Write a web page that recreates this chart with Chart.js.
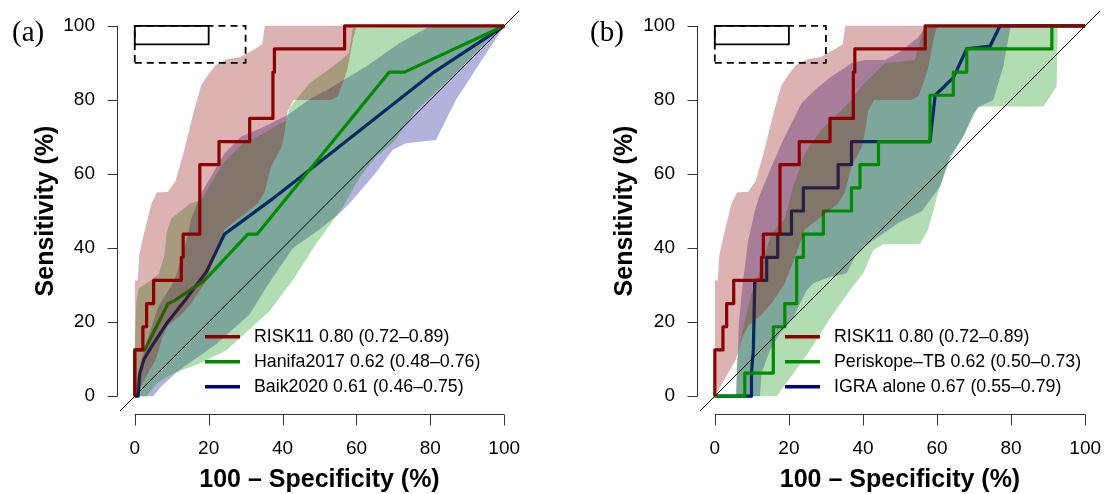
<!DOCTYPE html>
<html>
<head>
<meta charset="utf-8">
<script src="https://cdn.jsdelivr.net/npm/chart.js@4.4.1/dist/chart.umd.min.js"></script>
<style>
  html, body { margin: 0; padding: 0; background: #fff; }
  #wrap { position: relative; width: 1110px; height: 494px; }
  canvas { position: absolute; top: 0; }
  #panelA { left: 0; }
  #panelB { left: 555px; }
</style>
</head>
<body>
<div id="wrap">
  <canvas id="panelA" width="555" height="494"></canvas>
  <canvas id="panelB" width="555" height="494"></canvas>
</div>
<script>
// Axis ticks
const xTicks = [0, 20, 40, 60, 80, 100];
const yTicks = [0, 20, 40, 60, 80, 100];

// Target product profile boxes: [max 100-specificity, min sensitivity]
const optimalTpp = [20, 95];
const minimalTpp = [30, 90];

// RISK11 (same in both panels)
const risk11Fpr  = [0, 0, 2.2, 2.2, 3.2, 3.2, 5.1, 5.1, 12.6, 12.6, 13.1, 13.1, 17.6, 17.6, 22.8, 22.8, 31.1, 31.1, 37.4, 37.4, 37.8, 37.8, 56.8, 56.8, 100];
const risk11Sens = [0, 12.5, 12.5, 18.75, 18.75, 25, 25, 31.25, 31.25, 37.5, 37.5, 43.75, 43.75, 62.5, 62.5, 68.75, 68.75, 75, 75, 87.5, 87.5, 93.75, 93.75, 100, 100];
const risk11UpFpr  = [0, 0.8, 1.2, 2.5, 3.5, 4.5, 6, 9, 11, 13, 14, 16, 18, 20, 22, 25, 28.5, 32, 34.5, 35.2, 100];
const risk11UpSens = [31.25, 31.25, 38, 44, 48, 52, 55, 55.2, 58, 65, 69, 77, 84, 87, 89.5, 91, 91.5, 93.5, 95, 100, 100];
const risk11LoFpr  = [0, 2, 4, 5.6, 6.5, 7.5, 9, 12.6, 15.3, 18.9, 21.6, 24.3, 28.8, 33.3, 35.1, 36.9, 39.6, 40.5, 41.4, 43, 53, 55, 57.5, 59, 60, 100];
const risk11LoSens = [0, 3.5, 7, 9.7, 12.5, 16, 19, 22, 25, 30.5, 37.5, 45, 48.5, 52, 55, 62, 67, 71, 77, 80, 80, 81, 88, 96, 100, 100];

// Hanifa2017 (panel a)
const hanifaFpr  = [0, 0, 2.7, 9.0, 10.4, 18.9, 30.6, 33.1, 68.9, 73, 100];
const hanifaSens = [0, 12.5, 12.5, 25, 25.6, 31.25, 43.75, 43.75, 87.5, 87.5, 100];
const hanifaUpFpr  = [0, 0.4, 1, 4, 6.5, 8, 8.6, 9.9, 15, 18, 24, 29, 35, 41, 42, 47.3, 53.6, 58, 59, 100];
const hanifaUpSens = [12.5, 25, 29, 31, 33, 38, 44, 48, 52, 53, 63, 68, 71, 74.5, 78, 84.5, 89, 92.6, 99.5, 100];
const hanifaLoFpr  = [0, 3.2, 5.9, 10.4, 17.6, 24.8, 31, 36.5, 42.8, 49, 56.3, 60.8, 65.3, 70, 76, 85, 94, 100];
const hanifaLoSens = [0, 0, 3.4, 6.1, 8.8, 12.4, 18, 23, 31.4, 41, 51, 59, 64.7, 68.5, 77, 85.4, 94.4, 100];

// Baik2020 (panel a)
const baikFpr  = [0, 0.9, 1.35, 2.5, 4.5, 8.6, 14, 19.4, 24.3, 36.9, 47.3, 67, 81, 100];
const baikSens = [0, 0, 6.1, 10, 13.3, 19.6, 26.4, 33.6, 43.75, 53, 61.1, 76.5, 87.5, 100];
const baikUpFpr  = [0, 1, 2.7, 6.3, 10.8, 14, 15.3, 18, 24.3, 28.8, 35.1, 41.5, 47, 53.6, 62.6, 71.6, 79, 80, 100];
const baikUpSens = [0, 7, 13, 24, 31.4, 42, 48, 54.8, 65.6, 70.1, 72.8, 76, 80, 83.6, 89, 95.3, 99.4, 100, 100];
const baikLoFpr  = [0, 5, 7, 12, 22, 31, 36, 42.8, 50, 55.4, 58.1, 65, 69.8, 73.4, 81.5, 86.9, 100];
const baikLoSens = [0, 0, 2.5, 7, 14, 22, 30, 40, 45, 49.4, 52, 60, 66.5, 68.3, 69.2, 80, 100];

// Periskope-TB (panel b)
const periFpr  = [0, 8.1, 8.1, 15.8, 15.8, 18.9, 18.9, 22.1, 22.1, 23.9, 23.9, 29.3, 29.3, 36.9, 36.9, 39.2, 39.2, 44.2, 44.2, 58.1, 58.1, 64.4, 64.4, 68, 68, 91, 91, 100];
const periSens = [0, 0, 6.25, 6.25, 18.75, 18.75, 25, 25, 37.5, 37.5, 43.75, 43.75, 50, 50, 56.25, 56.25, 62.5, 62.5, 68.75, 68.75, 81.25, 81.25, 87.5, 87.5, 93.75, 93.75, 100, 100];
const periUpFpr  = [0, 5.6, 6, 8, 10, 12.6, 15.3, 18.9, 21, 24.3, 28.8, 36, 39.6, 45.9, 54, 56.3, 58, 100];
const periUpSens = [0, 0, 10, 20, 28, 35, 44, 48, 56, 65.6, 72, 79, 83.6, 89.9, 90.8, 98.9, 100, 100];
const periLoFpr  = [0, 16.7, 21.2, 25.7, 31.1, 36.5, 40.1, 42.8, 45.5, 55.4, 57.6, 60.3, 63.5, 67, 71.2, 88.7, 92.3, 92.6, 100];
const periLoSens = [0, 0, 6.1, 12.4, 21, 28.6, 33.2, 39.5, 41, 41, 45, 55, 64, 70, 78.2, 78.2, 83.6, 100, 100];

// IGRA alone (panel b)
const igraFpr  = [0, 9.9, 9.9, 10.4, 10.8, 14, 14, 17, 17, 20.7, 20.7, 23.9, 23.9, 33.3, 33.3, 36.9, 36.9, 58.1, 59.5, 64.4, 68, 74.3, 77, 100];
const igraSens = [0, 0, 6.25, 12.5, 31.25, 31.25, 37.5, 37.5, 43.75, 43.75, 50, 50, 56.25, 56.25, 62.5, 62.5, 68.75, 68.75, 81.25, 86, 93.75, 94.5, 100, 100];
const igraUpFpr  = [0, 5.8, 6.5, 7.5, 9, 10.8, 12, 15.3, 18.9, 23.4, 27, 31.5, 34.2, 36.9, 40.5, 45.9, 50, 55, 57, 100];
const igraUpSens = [0, 0, 20, 30, 42, 50, 54, 62, 70.1, 79.1, 82.7, 86.3, 88.1, 89.9, 90.8, 90.8, 93, 97, 100, 100];
const igraLoFpr  = [0, 12.2, 12.6, 14.9, 17.6, 21.2, 24.8, 26.6, 31.1, 35.6, 38.3, 42.8, 50, 56, 60.8, 63.5, 67.1, 69.8, 71.2, 75.2, 77.9, 79.7, 80, 100];
const igraLoSens = [0, 0, 6.1, 12.4, 16.9, 21.4, 28.6, 30.5, 32.2, 33.2, 38.6, 42.2, 47, 50, 56.6, 64.7, 70.1, 76.4, 78, 80, 89, 99, 100, 100];

// Legend texts
const legendA = ['RISK11 0.80 (0.72–0.89)', 'Hanifa2017 0.62 (0.48–0.76)', 'Baik2020 0.61 (0.46–0.75)'];
const legendB = ['RISK11 0.80 (0.72–0.89)', 'Periskope–TB 0.62 (0.50–0.73)', 'IGRA alone 0.67 (0.55–0.79)'];

const SANS = '"Liberation Sans", Arial, Helvetica, sans-serif';
const DARKRED = '#8B0000';
const GREEN = '#008B00';
const DARKBLUE = '#00008B';
const FILL_RED = 'rgba(139,0,0,0.3)';
const FILL_GREEN = 'rgba(0,139,0,0.3)';
const FILL_BLUE = 'rgba(0,0,139,0.3)';

function pts(xs, ys) {
  return xs.map((x, i) => ({ x: x, y: ys[i] }));
}

// upper edge fills down to the lower edge (next dataset)
function band(upX, upY, loX, loY, color, order) {
  return [
    { data: pts(upX, upY), fill: '+1', backgroundColor: color, borderWidth: 0, order: order },
    { data: pts(loX, loY), fill: false, borderWidth: 0, order: order }
  ];
}

function curve(xs, ys, color, order) {
  return { data: pts(xs, ys), borderColor: color, borderWidth: 3.2, fill: false, order: order };
}

function tppBox(box, dash) {
  const fpr = [0, box[0], box[0], 0, 0];
  const sens = [box[1], box[1], 100, 100, box[1]];
  return { data: pts(fpr, sens), borderColor: '#000', borderWidth: 1.8, borderDash: dash, fill: false, order: 1 };
}

function diagonal() {
  return { data: pts([-4, 104], [-4, 104]), borderColor: '#000', borderWidth: 1, fill: false, order: 15 };
}

// base-R style axes, legend and panel letter
function decor(panelLabel, labelX, legendLabels, legendColors) {
  return {
    id: 'decor',
    afterDraw(chart) {
      const { ctx, chartArea } = chart;
      const x = chart.scales.x;
      const y = chart.scales.y;
      ctx.save();
      ctx.strokeStyle = '#333';
      ctx.lineWidth = 1;
      ctx.beginPath();
      const ax = Math.round(chartArea.left - 3) + 0.5;
      ctx.moveTo(ax, y.getPixelForValue(yTicks[0]));
      ctx.lineTo(ax, y.getPixelForValue(yTicks[yTicks.length - 1]));
      yTicks.forEach(v => {
        const py = Math.round(y.getPixelForValue(v)) + 0.5;
        ctx.moveTo(ax, py);
        ctx.lineTo(ax - 10, py);
      });
      const ay = Math.round(chartArea.bottom + 3) + 0.5;
      ctx.moveTo(x.getPixelForValue(xTicks[0]), ay);
      ctx.lineTo(x.getPixelForValue(xTicks[xTicks.length - 1]), ay);
      xTicks.forEach(v => {
        const px = Math.round(x.getPixelForValue(v)) + 0.5;
        ctx.moveTo(px, ay);
        ctx.lineTo(px, ay + 11);
      });
      ctx.stroke();

      // legend, bottom right of the plot
      ctx.font = '17.8px ' + SANS;
      ctx.textBaseline = 'middle';
      ctx.textAlign = 'left';
      legendLabels.forEach((text, i) => {
        const ly = chartArea.bottom - 74.3 + i * 25;
        ctx.strokeStyle = legendColors[i];
        ctx.lineWidth = 3.5;
        ctx.beginPath();
        ctx.moveTo(chartArea.left + 85, ly);
        ctx.lineTo(chartArea.left + 120, ly);
        ctx.stroke();
        ctx.fillStyle = '#000';
        ctx.fillText(text, chartArea.left + 134, ly);
      });

      ctx.font = '29px "Liberation Serif", "Times New Roman", serif';
      ctx.textBaseline = 'alphabetic';
      ctx.fillStyle = '#000';
      ctx.fillText(panelLabel, labelX, 41);
      ctx.restore();
    }
  };
}

function makeScales(yWidth, yTitlePad) {
  return {
    x: {
      type: 'linear', min: -4, max: 104,
      afterBuildTicks: s => { s.ticks = xTicks.map(v => ({ value: v })); },
      afterFit: s => { s.height = 83; s.paddingLeft = 0; s.paddingRight = 0; },
      grid: { display: false, drawTicks: false },
      border: { display: false },
      ticks: { font: { family: SANS, size: 19 }, color: '#000', padding: 26, maxRotation: 0, autoSkip: false },
      title: { display: true, text: '100 – Specificity (%)', color: '#000', padding: 0,
               font: { family: SANS, size: 25, weight: 'bold', lineHeight: 1.1 } }
    },
    y: {
      type: 'linear', min: -4, max: 104,
      afterBuildTicks: s => { s.ticks = yTicks.map(v => ({ value: v })); },
      afterFit: s => { s.width = yWidth; s.paddingTop = 0; s.paddingBottom = 0; },
      grid: { display: false, drawTicks: false },
      border: { display: false },
      ticks: { font: { family: SANS, size: 19 }, color: '#000', padding: 25, autoSkip: false },
      title: { display: true, text: 'Sensitivity (%)', color: '#000', padding: { top: yTitlePad, bottom: 0 },
               font: { family: SANS, size: 25, weight: 'bold', lineHeight: 1.2 } }
    }
  };
}

function makeChart(canvasId, datasets, yWidth, rightPad, yTitlePad, plugin) {
  return new Chart(document.getElementById(canvasId), {
    type: 'line',
    data: { datasets: datasets },
    options: {
      responsive: false,
      animation: false,
      devicePixelRatio: 1,
      events: [],
      layout: { padding: { left: 0, right: rightPad, top: 11, bottom: 0 } },
      elements: {
        point: { radius: 0, hoverRadius: 0 },
        line: { tension: 0, borderJoinStyle: 'round', borderCapStyle: 'butt' }
      },
      plugins: {
        legend: { display: false },
        tooltip: { enabled: false },
        filler: { drawTime: 'beforeDatasetDraw' }
      },
      scales: makeScales(yWidth, yTitlePad)
    },
    plugins: [plugin]
  });
}

// Panel (a)
const datasetsA = [].concat(
  band(baikUpFpr, baikUpSens, baikLoFpr, baikLoSens, FILL_BLUE, 60),
  [curve(baikFpr, baikSens, DARKBLUE, 50)],
  band(hanifaUpFpr, hanifaUpSens, hanifaLoFpr, hanifaLoSens, FILL_GREEN, 40),
  [curve(hanifaFpr, hanifaSens, GREEN, 30)],
  band(risk11UpFpr, risk11UpSens, risk11LoFpr, risk11LoSens, FILL_RED, 20),
  [diagonal(), curve(risk11Fpr, risk11Sens, DARKRED, 10)],
  [tppBox(optimalTpp, []), tppBox(minimalTpp, [7, 5])]
);
makeChart('panelA', datasetsA, 120, 36, 31, decor('(a)', 12, legendA, [DARKRED, GREEN, DARKBLUE]));

// Panel (b)
const datasetsB = [].concat(
  band(igraUpFpr, igraUpSens, igraLoFpr, igraLoSens, FILL_BLUE, 60),
  [curve(igraFpr, igraSens, DARKBLUE, 50)],
  band(periUpFpr, periUpSens, periLoFpr, periLoSens, FILL_GREEN, 40),
  [curve(periFpr, periSens, GREEN, 30)],
  band(risk11UpFpr, risk11UpSens, risk11LoFpr, risk11LoSens, FILL_RED, 20),
  [diagonal(), curve(risk11Fpr, risk11Sens, DARKRED, 10)],
  [tppBox(optimalTpp, []), tppBox(minimalTpp, [7, 5])]
);
makeChart('panelB', datasetsB, 145, 10, 55, decor('(b)', 35, legendB, [DARKRED, GREEN, DARKBLUE]));
</script>
</body>
</html>
